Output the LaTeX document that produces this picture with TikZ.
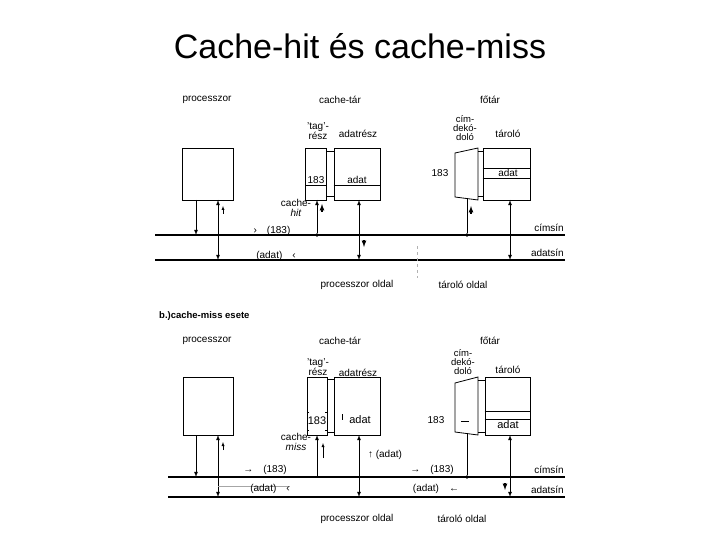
\documentclass[tikz,border=0pt]{standalone}
\usepackage{fontspec}
\setmainfont{Liberation Sans}
\begin{document}
\begin{tikzpicture}[x=1pt,y=-1pt,
  box/.style={draw,thick},
  lbl/.style={font=\fontsize{10}{10.5}\selectfont,align=center,inner sep=1pt},
  bus/.style={line width=1.2pt},
  arr/.style={-latex,thick},
  darr/.style={latex-latex,thick},
  sarr/.style={-latex,thin},
  dotn/.style={circle,fill,inner sep=1.3pt}]
\useasboundingbox (0,0) rectangle (720,540);
\fill[white] (0,0) rectangle (720,540);
\node[font=\fontsize{34}{38}\selectfont] (title) at (360,46) {Cache-hit és cache-miss};

% ===== TOP (cache-hit) =====
\node[lbl] (p1) at (207,100) {processzor};
\node[lbl] (c1) at (340,100) {cache-tár};
\node[lbl] (f1) at (490,100) {főtár};
\node[lbl] (tg1) at (318,131) {'tag'-\\rész};
\node[lbl] (ar1) at (358,134) {adatrész};
\node[lbl,font=\fontsize{9.5}{9}\selectfont] (cd1) at (465,128) {cím-\\dekó-\\doló};
\node[lbl] (tr1) at (508,134) {tároló};

\node[box,minimum width=51pt,minimum height=52pt] (P1) at (207.5,174) {};
\node[box,minimum width=21pt,minimum height=52pt] (T1) at (316,174) {};
\draw (T1.west |- 0,185) -- (T1.east |- 0,185);
\node[lbl] (t183a) at (316,180) {183};
\node[box,minimum width=46pt,minimum height=52pt] (D1) at (357,174) {};
\draw (D1.west |- 0,185) -- (D1.east |- 0,185);
\node[lbl] (da1) at (357,180) {adat};
\draw (326,151) -- (334,151) (326,196) -- (334,196);
\draw[box] (455,153) -- (478,148) -- (478,200) -- (455,197) -- cycle;
\coordinate (DEC1) at (467,198);
\draw (478,151) -- (483,151) (478,196) -- (483,196);
\node[box,minimum width=47pt,minimum height=52pt] (S1) at (506.5,174) {};
\draw (S1.west |- 0,168) -- (S1.east |- 0,168) (S1.west |- 0,178) -- (S1.east |- 0,178);
\node[lbl] (sa1) at (508,173) {adat};
\node[lbl] (n183a) at (440,173) {183};

\coordinate (cimL1) at (155,235); \coordinate (cimR1) at (565,235);
\coordinate (adL1) at (155,260); \coordinate (adR1) at (565,260);
\draw[bus] (cimL1) -- (cimR1);
\draw[bus] (adL1) -- (adR1);
\node[lbl,anchor=south east] (cs1) at (565,233) {címsín};
\node[lbl,anchor=south east] (as1) at (565,258) {adatsín};

\draw[arr] (196,200) -- (196,235);
\draw[darr] (218,200) -- (218,260);
\draw[sarr] (223,214) -- (223,206);
\node[dotn] (tb1) at (317,235) {};
\draw[arr] (tb1) -- (317,200);
\draw[sarr,very thick] (322,212) -- (322,204);
\node[lbl] (ch1) at (296,208) {cache-\\\textit{hit}};
\draw[darr] (359,200) -- (359,260);
\draw[sarr,very thick] (364,240) -- (364,247);
\node[dotn] (db1) at (467,235) {};
\draw[thick] (db1) -- (DEC1);
\draw[sarr,very thick] (471,214) -- (471,206);
\draw[darr] (510,200) -- (510,260);
\node[lbl] (a183a) at (272,231) {›\quad(183)};
\node[lbl] (aad1) at (276,256) {(adat)\quad‹};
\draw[gray!60,dashed] (417,246) -- (417,278);
\node[lbl] (po1) at (357,285) {processzor oldal};
\node[lbl] (to1) at (463,285) {tároló oldal};

% ===== BOTTOM (cache-miss) =====
\node[lbl,font=\bfseries\fontsize{9.5}{10}\selectfont,anchor=west] (bm) at (158,316) {b.)cache-miss esete};
\node[lbl] (p2) at (207,341) {processzor};
\node[lbl] (c2) at (340,341) {cache-tár};
\node[lbl] (f2) at (490,341) {főtár};
\node[lbl] (tg2) at (318,367) {'tag'-\\rész};
\node[lbl] (ar2) at (358,373) {adatrész};
\node[lbl,font=\fontsize{9.5}{9}\selectfont] (cd2) at (463,362) {cím-\\dekó-\\doló};
\node[lbl] (tr2) at (508,370) {tároló};

\node[box,minimum width=50pt,minimum height=58pt] (P2) at (208,406) {};
\node[box,minimum width=20pt,minimum height=58pt] (T2) at (317,406) {};
\node[lbl,font=\fontsize{11}{11}\selectfont] (t183b) at (317,421) {183};
\draw (309,412) -- (307,412) -- (307,430) -- (309,430) (325,412) -- (327,412) -- (327,430) -- (325,430);
\node[box,minimum width=46pt,minimum height=58pt] (D2) at (357,406) {};
\node[lbl,font=\fontsize{11}{11}\selectfont] (da2) at (360,420) {adat};
\draw (342,414) -- (342,420);
\draw (327,379) -- (334,379) (327,432) -- (334,432);
\draw[box] (455,383) -- (478,377) -- (478,435) -- (455,432) -- cycle;
\coordinate (DEC2) at (467,433);
\draw (478,380) -- (485,380) (478,432) -- (485,432);
\node[box,minimum width=45pt,minimum height=58pt] (S2) at (507.5,406) {};
\draw (S2.west |- 0,411) -- (S2.east |- 0,411) (S2.west |- 0,419) -- (S2.east |- 0,419);
\node[lbl,font=\fontsize{11}{11}\selectfont] (sa2) at (508,425) {adat};
\node[lbl] (n183b) at (436,420) {183};
\draw (461,421) -- (469,421);

\coordinate (cimL2) at (168,477); \coordinate (cimR2) at (565,477);
\coordinate (adL2) at (168,497); \coordinate (adR2) at (565,497);
\draw[bus] (cimL2) -- (cimR2);
\draw[bus] (adL2) -- (adR2);
\node[lbl,anchor=south east] (cs2) at (565,475) {címsín};
\node[lbl,anchor=south east] (as2) at (565,495) {adatsín};

\draw[arr] (196,435) -- (196,477);
\draw[darr] (218,435) -- (218,497);
\draw[gray!70,thin] (218,486) -- (290,486);
\draw[sarr] (223,450) -- (223,442);
\draw[arr] (317,477) -- (317,435);
\draw[sarr] (323,458) -- (323,443);
\node[lbl] (cm2) at (296,442) {cache-\\\textit{miss}};
\draw[darr] (359,435) -- (359,497);
\node[lbl] (ad2up) at (385,455) {↑ (adat)};
\node[dotn] (db2) at (467,477) {};
\draw[thick] (db2) -- (DEC2);
\draw[darr] (510,435) -- (510,497);
\draw[sarr,very thick] (505,483) -- (505,490);
\node[lbl] (a183b) at (265,470) {→\quad(183)};
\node[lbl] (a183c) at (432,470) {→\quad(183)};
\node[lbl] (aad2) at (270,489) {(adat)\quad‹};
\node[lbl] (aad3) at (436,489) {(adat)\quad←};
\node[lbl] (po2) at (357,519) {processzor oldal};
\node[lbl] (to2) at (462,519) {tároló oldal};
\end{tikzpicture}
\end{document}
